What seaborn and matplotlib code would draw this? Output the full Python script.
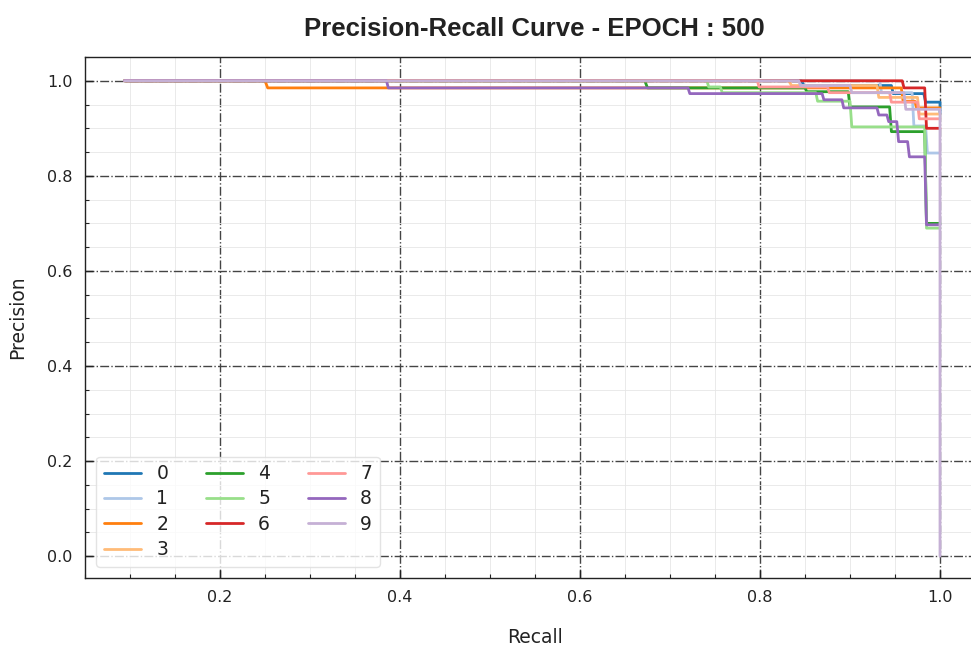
import numpy as np
import pandas as pd
import matplotlib
matplotlib.use("Agg")
import matplotlib.pyplot as plt
import seaborn as sns
from matplotlib.ticker import MultipleLocator

classes = ["0", "1", "2", "3", "4", "5", "6", "7", "8", "9"]

recall_0 = [0.094, 0.846, 0.849, 0.946, 0.948, 0.982, 0.984, 1.0, 1.0]
precision_0 = [1.0, 1.0, 0.99, 0.99, 0.973, 0.973, 0.955, 0.955, 0.93]
recall_1 = [0.094, 0.933, 0.935, 0.969, 0.971, 0.984, 0.986, 1.0]
precision_1 = [1.0, 1.0, 0.975, 0.975, 0.905, 0.905, 0.848, 0.848]
recall_2 = [0.094, 0.25, 0.253, 0.957, 0.959, 0.972, 0.974, 1.0]
precision_2 = [1.0, 1.0, 0.985, 0.985, 0.957, 0.957, 0.943, 0.943]
recall_3 = [0.094, 0.832, 0.835, 0.93, 0.932, 0.975, 0.977, 1.0]
precision_3 = [1.0, 1.0, 0.99, 0.99, 0.965, 0.965, 0.93, 0.93]
recall_4 = [0.094, 0.672, 0.675, 0.85, 0.852, 0.898, 0.900, 0.944, 0.946, 0.983, 0.985, 1.0]
precision_4 = [1.0, 1.0, 0.985, 0.985, 0.977, 0.977, 0.945, 0.945, 0.893, 0.893, 0.70, 0.70]
recall_5 = [0.094, 0.741, 0.743, 0.756, 0.758, 0.862, 0.864, 0.9, 0.902, 0.983, 0.985, 1.0]
precision_5 = [1.0, 1.0, 0.987, 0.987, 0.975, 0.975, 0.957, 0.957, 0.903, 0.903, 0.69, 0.69]
recall_6 = [0.094, 0.958, 0.960, 0.983, 0.985, 1.0]
precision_6 = [1.0, 1.0, 0.985, 0.985, 0.90, 0.90]
recall_7 = [0.094, 0.797, 0.799, 0.875, 0.877, 0.944, 0.946, 0.975, 0.977, 1.0]
precision_7 = [1.0, 1.0, 0.987, 0.987, 0.975, 0.975, 0.955, 0.955, 0.92, 0.92]
recall_8 = [0.094, 0.385, 0.387, 0.720, 0.722, 0.869, 0.871, 0.891, 0.893, 0.930, 0.932,
            0.941, 0.943, 0.952, 0.954, 0.964, 0.966, 0.983, 0.985, 1.0]
precision_8 = [1.0, 1.0, 0.985, 0.985, 0.973, 0.973, 0.96, 0.96, 0.943, 0.943, 0.928,
               0.928, 0.914, 0.914, 0.872, 0.872, 0.84, 0.84, 0.697, 0.697]
recall_9 = [0.094, 0.843, 0.845, 0.90, 0.902, 0.96, 0.962, 1.0, 1.0]
precision_9 = [1.0, 1.0, 0.99, 0.99, 0.975, 0.975, 0.94, 0.94, 0.0]

recalls = [recall_0, recall_1, recall_2, recall_3, recall_4,
           recall_5, recall_6, recall_7, recall_8, recall_9]
precisions = [precision_0, precision_1, precision_2, precision_3, precision_4,
              precision_5, precision_6, precision_7, precision_8, precision_9]

rows = []
for c, r, p in zip(classes, recalls, precisions):
    for i, (rv, pv) in enumerate(zip(r, p)):
        rows.append({"class": c, "order": i, "Recall": rv, "Precision": pv})
df = pd.DataFrame(rows)

sns.set_theme(style="white")
plt.rcParams["font.family"] = ["DejaVu Sans"]

fig = plt.figure(figsize=(9.71, 6.46), dpi=100)
ax = fig.add_axes([85 / 971, 1 - 578 / 646, 900 / 971, (578 - 57) / 646])

palette = sns.color_palette("tab20", 10)
sns.lineplot(data=df, x="Recall", y="Precision", hue="class", hue_order=classes,
             palette=palette, sort=False, estimator=None, linewidth=2, ax=ax)

ax.set_xlim(0.05, 1.05)
ax.set_ylim(-0.046, 1.05)
ax.xaxis.set_major_locator(MultipleLocator(0.2))
ax.yaxis.set_major_locator(MultipleLocator(0.2))
ax.xaxis.set_minor_locator(MultipleLocator(0.05))
ax.yaxis.set_minor_locator(MultipleLocator(0.05))
ax.grid(which="major", linestyle="-.", color="#444444", linewidth=1.0)
ax.grid(which="minor", linestyle="-", color="#e6e6e6", linewidth=0.6)
ax.set_axisbelow(True)
ax.tick_params(which="major", direction="in", length=6, width=1, labelsize=11.5,
               pad=9, bottom=True, left=True, color="#222222", labelcolor="#222222")
ax.tick_params(which="minor", direction="in", length=3, width=0.8,
               bottom=True, left=True, color="#222222")
for s in ax.spines.values():
    s.set_color("#222222")
    s.set_linewidth(1.0)

ax.set_xlabel("Recall", fontsize=13.5, labelpad=16, color="#222222")
ax.set_ylabel("Precision", fontsize=13.5, labelpad=14, color="#222222")

handles, labels = ax.get_legend_handles_labels()
ax.legend(handles, labels, loc="lower left", ncol=3, fontsize=13.5,
          frameon=True, fancybox=True, framealpha=0.8, edgecolor="#dddddd",
          columnspacing=2.0, borderaxespad=0.6, labelspacing=0.34,
          labelcolor="#222222")

fig.text(534 / 971, 1 - 29 / 646, "Precision-Recall Curve - EPOCH : 500",
         ha="center", va="center", fontsize=18.5, fontweight="bold",
         family=["Liberation Sans", "DejaVu Sans"], color="#222222")

fig.savefig("out.png", dpi=100)
